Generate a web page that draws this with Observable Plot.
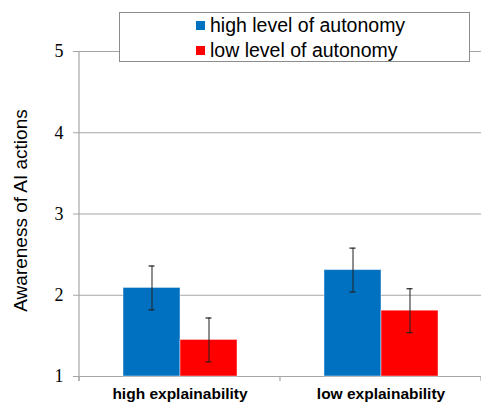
<!DOCTYPE html>
<html>
<head>
<meta charset="utf-8">
<script src="https://cdn.jsdelivr.net/npm/d3@7"></script>
<script src="https://cdn.jsdelivr.net/npm/@observablehq/plot@0.6"></script>
<style>
  html, body { margin: 0; padding: 0; background: #fff; }
  #wrap { position: relative; width: 481px; height: 406px; }
  #legend {
    position: absolute; left: 119px; top: 12px; width: 351px; height: 50px;
    box-sizing: border-box; border: 1px solid #8c8c8c; background: #fff;
    padding-left: 76px; padding-top: 0px;
    font-family: "Liberation Sans", Arial, sans-serif; font-size: 19.5px; color: #000;
  }
  .row { height: 25px; display: flex; align-items: center; }
  .sw { width: 9px; height: 9px; margin-right: 5px; display: inline-block; }
</style>
</head>
<body>
<div id="wrap"></div>
<script>
const categories = ["high explainability", "low explainability"];
const levels = ["high level of autonomy", "low level of autonomy"];
const colors = ["#0070C0", "#FF0000"];
const meansHighAutonomy = [2.09, 2.31];
const meansLowAutonomy = [1.45, 1.81];
const errHighAutonomy = [0.27, 0.27];
const errLowAutonomy = [0.27, 0.27];
const yTicks = [1, 2, 3, 4, 5];
const yLabel = "Awareness of AI actions";

const data = [];
categories.forEach((c, i) => {
  data.push({cat: c, level: levels[0], value: meansHighAutonomy[i], err: errHighAutonomy[i]});
  data.push({cat: c, level: levels[1], value: meansLowAutonomy[i], err: errLowAutonomy[i]});
});

const gray = "#a6a6a6";

const plot = Plot.plot({
  width: 481,
  height: 406,
  marginLeft: 78,
  marginRight: 0,
  marginTop: 51,
  marginBottom: 30,
  style: {background: "#fff", overflow: "visible"},
  fx: {domain: categories, padding: 0, label: null},
  x: {domain: levels, paddingInner: 0, paddingOuter: 0.75, axis: null},
  y: {domain: [1, 5], label: null},
  color: {domain: levels, range: colors},
  marks: [
    Plot.gridY(yTicks.slice(1), {stroke: gray, strokeOpacity: 1, strokeWidth: 1.2}),
    Plot.ruleY([1], {stroke: gray, strokeWidth: 1.2}),
    Plot.barY(data, {fx: "cat", x: "level", y1: () => 1, y2: "value", fill: "level", stroke: "#ffffff", strokeOpacity: 0.45, strokeWidth: 1}),
    Plot.ruleX(data, {fx: "cat", x: "level", y1: d => d.value - d.err, y2: d => d.value + d.err, stroke: "#222", strokeWidth: 1.2, strokeOpacity: 0.85}),
    Plot.tickY(data, {fx: "cat", x: "level", y: d => d.value + d.err, stroke: "#222", strokeWidth: 1.2, inset: 25.5}),
    Plot.tickY(data, {fx: "cat", x: "level", y: d => d.value - d.err, stroke: "#222", strokeWidth: 1.2, inset: 25.5}),
    Plot.axisY({ticks: yTicks, tickFormat: d => String(d), tickSize: 6, tickPadding: 10, stroke: gray, fontFamily: "Liberation Serif, Times New Roman, serif", fontSize: 18, color: "#000", label: null}),
    Plot.axisFx({anchor: "bottom", tickSize: 0, tickPadding: 11, fontWeight: "bold", fontSize: 15.5, fontFamily: "Liberation Sans, Arial, sans-serif", label: null})
  ]
});

// Extra axis decorations from the plot's own scales
const svg = d3.select(plot.tagName.toLowerCase() === "svg" ? plot : plot.querySelector("svg"));
const ys = plot.scale("y");
const fxs = plot.scale("fx");
const y1px = ys.apply(1), y5px = ys.apply(5);
const left = fxs.apply(categories[0]);
const g = svg.append("g");
g.append("line").attr("x1", left).attr("x2", left).attr("y1", y5px).attr("y2", y1px + 5)
  .attr("stroke", gray).attr("stroke-width", 1.2);
const edges = categories.map(c => fxs.apply(c)).concat([fxs.apply(categories[categories.length - 1]) + fxs.bandwidth]);
edges.forEach(e => {
  g.append("line").attr("x1", e).attr("x2", e).attr("y1", y1px).attr("y2", y1px + 5)
    .attr("stroke", gray).attr("stroke-width", 1.2);
});
svg.append("text")
  .attr("transform", `translate(20,${(y1px + y5px) / 2 - 3}) rotate(-90)`)
  .attr("text-anchor", "middle").attr("dominant-baseline", "central")
  .attr("font-family", "Liberation Sans, Arial, sans-serif").attr("font-size", 19)
  .attr("fill", "#000").text(yLabel);

const wrap = document.getElementById("wrap");
wrap.appendChild(plot);

const legend = document.createElement("div");
legend.id = "legend";
levels.forEach((l, i) => {
  const row = document.createElement("div");
  row.className = "row";
  const sw = document.createElement("span");
  sw.className = "sw";
  sw.style.background = colors[i];
  row.appendChild(sw);
  row.appendChild(document.createTextNode(l));
  legend.appendChild(row);
});
wrap.appendChild(legend);
</script>
</body>
</html>
